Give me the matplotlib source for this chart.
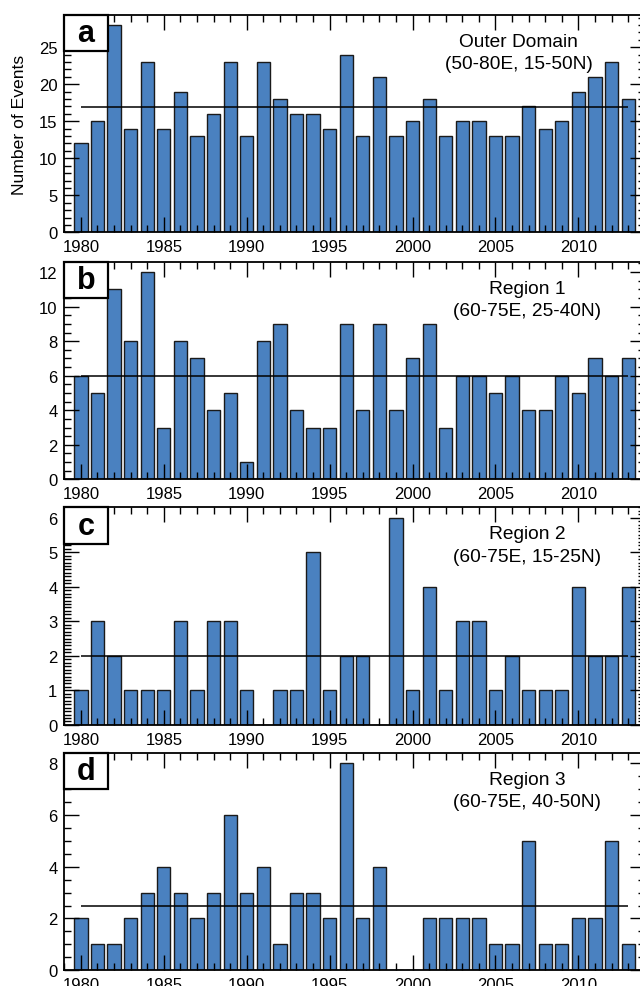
#!/usr/bin/env python3
"""
    Annual event counts, outer domain and three sub-regions
"""

import numpy as np
import matplotlib
matplotlib.use("Agg")
from matplotlib import pyplot as plt
from matplotlib.patches import Rectangle
from matplotlib.ticker import MultipleLocator

years = np.arange(1980, 2014)

outer_domain = [12, 15, 28, 14, 23, 14, 19, 13, 16, 23, 13, 23, 18, 16, 16, 14, 24,
                13, 21, 13, 15, 18, 13, 15, 15, 13, 13, 17, 14, 15, 19, 21, 23, 18]
region_1 = [6, 5, 11, 8, 12, 3, 8, 7, 4, 5, 1, 8, 9, 4, 3, 3, 9,
            4, 9, 4, 7, 9, 3, 6, 6, 5, 6, 4, 4, 6, 5, 7, 6, 7]
region_2 = [1, 3, 2, 1, 1, 1, 3, 1, 3, 3, 1, 0, 1, 1, 5, 1, 2,
            2, 0, 6, 1, 4, 1, 3, 3, 1, 2, 1, 1, 1, 4, 2, 2, 4]
region_3 = [2, 1, 1, 2, 3, 4, 3, 2, 3, 6, 3, 4, 1, 3, 3, 2, 8,
            2, 4, 0, 0, 2, 2, 2, 2, 1, 1, 5, 1, 1, 2, 2, 5, 1]

panel_letters = ["a", "b", "c", "d"]
panel_names = ["Outer Domain", "Region 1", "Region 2", "Region 3"]
panel_extents = ["(50-80E, 15-50N)", "(60-75E, 25-40N)",
                 "(60-75E, 15-25N)", "(60-75E, 40-50N)"]
series = [outer_domain, region_1, region_2, region_3]

y_tops = [29.4, 12.6, 6.3, 8.4]
y_major = [5, 2, 1, 2]
y_minor = [1, 0.5, 0.1, 0.5]
text_x = [0.783, 0.798, 0.798, 0.798]

BAR_COLOR = "#4a81c0"

plt.rcParams["font.family"] = ["Liberation Sans", "DejaVu Sans"]


def main() -> int:
    fig = plt.figure(figsize=(6.4, 9.87), dpi=100)

    tops = [0.9841, 0.7338, 0.4850, 0.2364]
    height = 0.2205
    left, width = 0.1005, 0.9069

    for i, vals in enumerate(series):
        ax = fig.add_axes([left, tops[i] - height, width, height])
        ax.bar(years, vals, width=0.8, color=BAR_COLOR, edgecolor="#1a1a1a",
               linewidth=1.0, zorder=2)
        ax.hlines(np.mean(vals), years[0], years[-1], color="black",
                  linewidth=1.1, zorder=3)

        ax.set_xlim(1979, 2014)
        ax.set_ylim(0, y_tops[i])
        ax.xaxis.set_major_locator(MultipleLocator(5))
        ax.xaxis.set_minor_locator(MultipleLocator(1))
        ax.yaxis.set_major_locator(MultipleLocator(y_major[i]))
        ax.yaxis.set_minor_locator(MultipleLocator(y_minor[i]))
        ax.set_axisbelow(False)
        ax.tick_params(which="both", direction="in", top=True, right=True,
                       width=1.0, labelsize=12, pad=5)
        ax.tick_params(which="major", length=10.5)
        ax.tick_params(which="minor", length=5.2)
        for sp in ax.spines.values():
            sp.set_linewidth(1.3)

        # panel letter box
        ax.add_patch(Rectangle((0, 1 - 0.168), 0.0748, 0.168, transform=ax.transAxes,
                               facecolor="white", edgecolor="black", linewidth=1.6,
                               clip_on=False, zorder=10))
        ax.text(0.0374, 1 - 0.084, panel_letters[i], transform=ax.transAxes,
                ha="center", va="center", fontsize=22, fontweight="bold", zorder=11)

        ax.text(text_x[i], 0.879, panel_names[i], transform=ax.transAxes,
                ha="center", va="center", fontsize=13.8)
        ax.text(text_x[i], 0.776, panel_extents[i], transform=ax.transAxes,
                ha="center", va="center", fontsize=13.8)

        if i == 0:
            ax.set_ylabel("Number of Events", fontsize=12.6)
            ax.yaxis.set_label_coords(-0.064, 0.5)

    fig.savefig("out.png", dpi=100)
    plt.close(fig)
    return 0


if __name__ == "__main__":
    raise SystemExit(main())
